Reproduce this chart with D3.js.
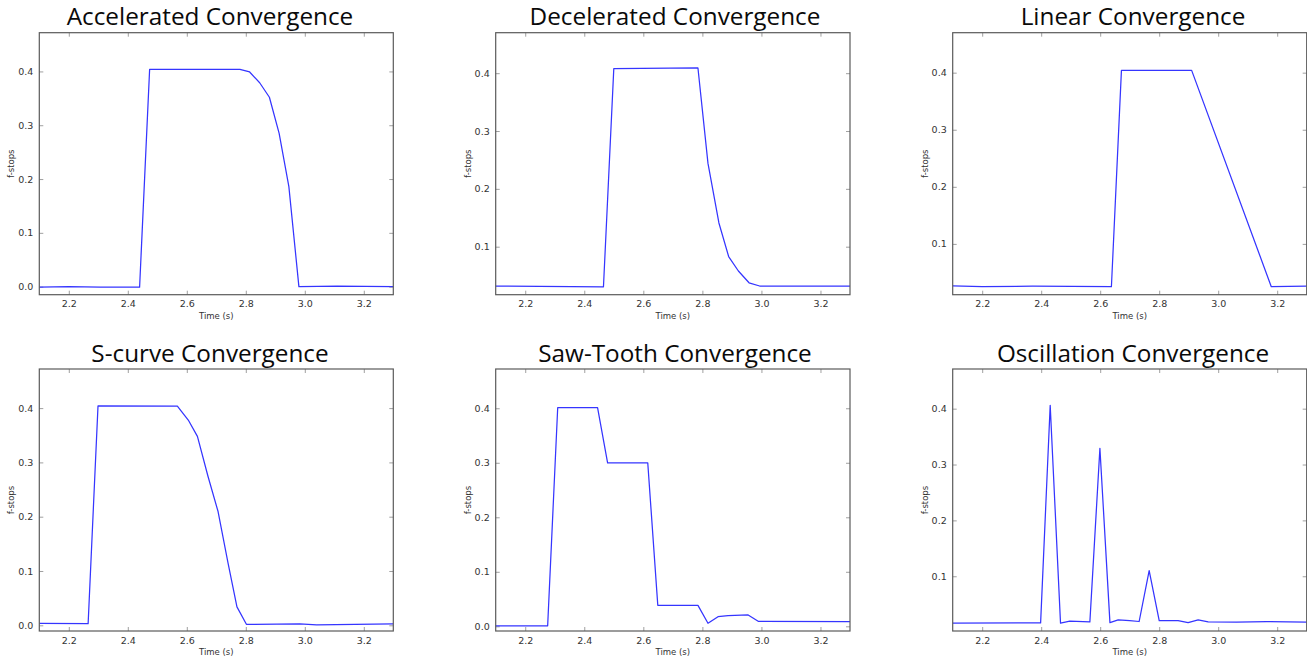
<!DOCTYPE html>
<html>
<head>
<meta charset="utf-8">
<script src="https://cdn.jsdelivr.net/npm/d3@7"></script>
<style>
  body { margin: 0; background: #fff; }
  svg { display: block; }
</style>
</head>
<body>
<div id="chart"></div>
<script>
// Panel titles
const titles = [
    'Accelerated Convergence', 'Decelerated Convergence', 'Linear Convergence',
    'S-curve Convergence', 'Saw-Tooth Convergence', 'Oscillation Convergence'
];

// Shared x axis (seconds)
const xDomain = [2.1, 3.3];
const xTicks = [2.2, 2.4, 2.6, 2.8, 3.0, 3.2];
const yTicks = [0.0, 0.1, 0.2, 0.3, 0.4];

// y ranges as autoscaled in each panel
const yDomains = [
    [-0.015, 0.472], [0.017, 0.47], [0.011, 0.47],
    [-0.0105, 0.472], [-0.0086, 0.472], [0.002, 0.471]
];

// Series: [time, f-stops]
const accelerated = [
    [2.10, -0.001], [2.20, 0.0], [2.307, -0.001], [2.44, -0.001], [2.474, 0.404],
    [2.78, 0.404], [2.813, 0.399], [2.847, 0.379], [2.88, 0.352], [2.913, 0.285],
    [2.946, 0.186], [2.98, 0.0], [3.11, 0.001], [3.30, 0.0]
];
const decelerated = [
    [2.097, 0.0318], [2.465, 0.0307], [2.50, 0.408], [2.785, 0.409], [2.819, 0.244],
    [2.856, 0.141], [2.889, 0.083], [2.922, 0.058], [2.958, 0.0376], [2.994, 0.032],
    [3.30, 0.032]
];
const linear = [
    [2.10, 0.0264], [2.20, 0.025], [2.37, 0.026], [2.638, 0.025], [2.672, 0.404],
    [2.91, 0.404], [3.18, 0.025], [3.30, 0.026]
];
const sCurve = [
    [2.10, 0.0037], [2.2655, 0.003], [2.299, 0.404], [2.568, 0.4037], [2.605, 0.378],
    [2.636, 0.348], [2.672, 0.274], [2.706, 0.2095], [2.74, 0.114], [2.77, 0.034],
    [2.802, 0.0018], [2.983, 0.0025], [3.04, 0.001], [3.30, 0.0025]
];
const sawTooth = [
    [2.097, 0.001], [2.276, 0.001], [2.31, 0.401], [2.445, 0.401], [2.479, 0.300],
    [2.615, 0.300], [2.649, 0.0385], [2.785, 0.0385], [2.819, 0.0055], [2.853, 0.0177],
    [2.887, 0.0196], [2.955, 0.0208], [2.989, 0.0092], [3.30, 0.0086]
];
const oscillation = [
    [2.10, 0.016], [2.398, 0.0165], [2.4305, 0.406], [2.4655, 0.016], [2.497, 0.0195],
    [2.565, 0.0183], [2.599, 0.329], [2.633, 0.017], [2.661, 0.0219], [2.70, 0.0207],
    [2.732, 0.019], [2.766, 0.110], [2.80, 0.0207], [2.864, 0.0207], [2.898, 0.017],
    [2.932, 0.0219], [2.966, 0.0183], [3.062, 0.0177], [3.164, 0.019], [3.30, 0.0177]
];
const series = [accelerated, decelerated, linear, sCurve, sawTooth, oscillation];

const width = 1307;
const height = 657;

// plot boxes: columns and rows in page pixels
const cols = [[39.3, 393.3], [495.7, 850], [952.7, 1306.7]];
const rows = [[32.7, 294.7], [369, 631]];
const titleY = [25, 362];
const titleX = [210, 675, 1133];

const svg = d3.select('#chart')
    .append('svg')
    .attr('width', width)
    .attr('height', height);

series.forEach((data, i) => {
    const [x0, x1] = cols[i % 3];
    const [y0, y1] = rows[Math.floor(i / 3)];

    const x = d3.scaleLinear().domain(xDomain).range([x0, x1]);
    const y = d3.scaleLinear().domain(yDomains[i]).range([y1, y0]);

    const g = svg.append('g');

    const clipId = `clip-${i}`;
    g.append('clipPath').attr('id', clipId)
        .append('rect')
        .attr('x', x0).attr('y', y0)
        .attr('width', x1 - x0).attr('height', y1 - y0);

    const yt = yTicks.filter(t => t >= yDomains[i][0] && t <= yDomains[i][1]);

    // inside ticks on all four sides, matplotlib classic style
    const tickStyle = sel => sel.call(s => s.select('.domain').remove())
        .call(s => s.selectAll('.tick line').attr('stroke', '#888').attr('stroke-width', 0.8))
        .call(s => s.selectAll('.tick text')
            .attr('fill', '#333')
            .style('font-family', 'DejaVu Sans, sans-serif')
            .style('font-size', '9.5px'));

    g.append('g')
        .attr('transform', `translate(0,${y1})`)
        .call(d3.axisBottom(x).tickValues(xTicks).tickFormat(d3.format('.1f'))
            .tickSizeInner(-4).tickSizeOuter(0).tickPadding(6))
        .call(tickStyle);
    g.append('g')
        .attr('transform', `translate(0,${y0})`)
        .call(d3.axisTop(x).tickValues(xTicks).tickFormat('')
            .tickSizeInner(-4).tickSizeOuter(0))
        .call(tickStyle);
    g.append('g')
        .attr('transform', `translate(${x0},0)`)
        .call(d3.axisLeft(y).tickValues(yt).tickFormat(d3.format('.1f'))
            .tickSizeInner(-4).tickSizeOuter(0).tickPadding(6))
        .call(tickStyle);
    g.append('g')
        .attr('transform', `translate(${x1},0)`)
        .call(d3.axisRight(y).tickValues(yt).tickFormat('')
            .tickSizeInner(-4).tickSizeOuter(0))
        .call(tickStyle);

    // the series line
    g.append('path')
        .datum(data)
        .attr('clip-path', `url(#${clipId})`)
        .attr('fill', 'none')
        .attr('stroke', '#3535ff')
        .attr('stroke-width', 1.25)
        .attr('stroke-linejoin', 'round')
        .attr('d', d3.line().x(d => x(d[0])).y(d => y(d[1])));

    // frame
    g.append('rect')
        .attr('x', x0).attr('y', y0)
        .attr('width', x1 - x0).attr('height', y1 - y0)
        .attr('fill', 'none')
        .attr('stroke', '#5a5a5a')
        .attr('stroke-width', 1.2);

    // axis labels
    g.append('text')
        .attr('x', (x0 + x1) / 2)
        .attr('y', y1 + 24)
        .attr('text-anchor', 'middle')
        .attr('fill', '#333')
        .style('font-family', 'DejaVu Sans, sans-serif')
        .style('font-size', '8.5px')
        .text('Time (s)');
    g.append('text')
        .attr('transform', `translate(${x0 - 25},${(y0 + y1) / 2}) rotate(-90)`)
        .attr('text-anchor', 'middle')
        .attr('fill', '#333')
        .style('font-family', 'DejaVu Sans, sans-serif')
        .style('font-size', '8.5px')
        .text('f-stops');

    // title
    g.append('text')
        .attr('x', titleX[i % 3])
        .attr('y', titleY[Math.floor(i / 3)])
        .attr('text-anchor', 'middle')
        .attr('fill', '#0a0a0a')
        .style('font-family', 'Open Sans, sans-serif')
        .style('font-size', '24.3px')
        .text(titles[i]);
});
</script>
</body>
</html>
